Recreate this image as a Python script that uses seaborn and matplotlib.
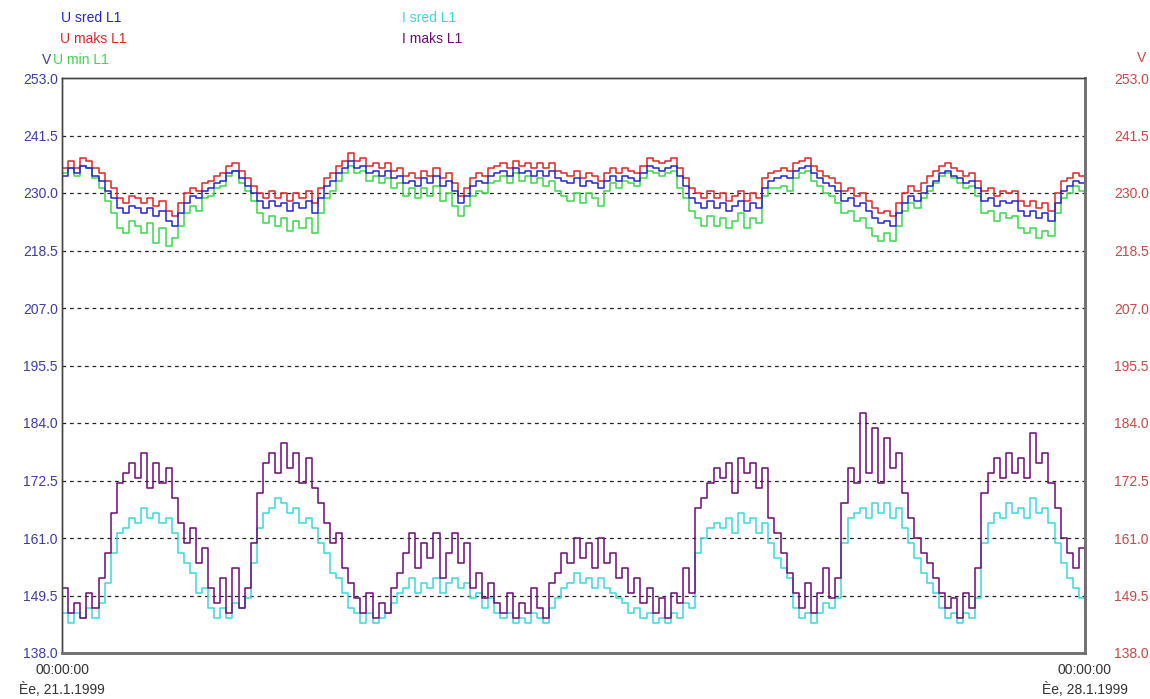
import numpy as np
import pandas as pd
import matplotlib
matplotlib.use('Agg')
import matplotlib.pyplot as plt
import seaborn as sns

# hourly readings, 21.1.1999 00:00 -> 28.1.1999 00:00
hours = list(range(169))

u_maks = [235, 236.5, 235, 237, 236.5, 235, 234, 232.5, 231, 229, 228, 229.5,
          229, 228, 229, 227.5, 228.5, 226.5, 225.5, 228, 230, 231, 230.5, 232,
          232.5, 233.5, 234, 235.5, 236, 234.5, 233, 231.5, 230, 229, 230.5, 229,
          230, 228.5, 230, 229, 230.5, 228, 231, 233, 234, 235.5, 236.5, 238,
          236.5, 237, 235.5, 236, 235, 236, 234.5, 235, 233.5, 234, 233, 234.5,
          233.5, 235, 233, 234, 232, 229.5, 231, 233, 234, 233.5, 235, 235.5,
          236, 235, 236.5, 235.5, 236, 235, 236, 235, 236, 234.5, 234, 233.5,
          234.5, 233, 234, 233.5, 232.5, 234, 235, 234, 235, 234.5, 234, 235.5,
          237, 236.5, 236, 236.5, 237, 235, 233, 231, 230, 229, 230.5, 229,
          230, 228.5, 229.5, 230.5, 228.5, 230, 229, 233, 234, 234.5, 235, 234.5,
          236, 236.5, 237, 235.5, 234.5, 233.5, 233, 232, 230.5, 231, 229.5, 230,
          228.5, 227, 226, 226.5, 225.5, 228, 230, 231.5, 230.5, 232, 233.5, 234.5,
          235.5, 236, 235, 234.5, 233.5, 234, 232.5, 230.5, 231, 229.5, 230.5, 230,
          230.5, 228.5, 227.5, 228.5, 227, 228, 226.5, 230, 232.5, 233, 234, 233.5,
          234.5]

u_sred = [233.5, 235, 234, 235.5, 235, 233.5, 232.5, 230.5, 229, 227, 226, 227.5,
          227, 226, 227, 225.5, 226.5, 224.5, 223.5, 226, 228, 229.5, 229, 230.5,
          231, 232, 232.5, 234, 234.5, 233, 231.5, 230, 228.5, 227, 228.5, 227.5,
          228, 226.5, 228, 227, 228.5, 226, 229, 231.5, 232.5, 234, 235, 236.5,
          235, 235.5, 234, 234.5, 233.5, 234.5, 233, 233.5, 232, 232.5, 231.5, 233,
          232, 233.5, 231.5, 232.5, 230.5, 228, 229.5, 231.5, 232.5, 232, 233.5, 234,
          234.5, 233.5, 235, 234, 234.5, 233.5, 234.5, 233.5, 234.5, 233, 232.5, 232,
          233, 231.5, 232.5, 232, 231, 232.5, 233.5, 232.5, 233.5, 233, 232.5, 234,
          235.5, 235, 234.5, 235, 235.5, 233.5, 231.5, 229, 228, 227, 228.5, 227,
          228, 226.5, 227.5, 228.5, 226.5, 228, 227, 231, 232.5, 233, 233.5, 233,
          234.5, 235, 235.5, 234, 233, 232, 231.5, 230.5, 228.5, 229, 227.5, 228,
          226.5, 225, 224, 224.5, 223.5, 226, 228, 229.5, 228.5, 230, 231.5, 232.5,
          234, 234.5, 233.5, 233, 232, 232.5, 231, 228.5, 229, 227.5, 228.5, 228,
          228.5, 226.5, 225.5, 226.5, 225, 226, 224.5, 228, 230.5, 231.5, 232.5, 232,
          233]

u_min = [234, 235, 233.5, 235.5, 235, 233, 231, 228.5, 226, 223, 222, 224.5,
         223.5, 222, 224, 220, 223, 219.5, 221, 223.5, 226, 227.5, 226.5, 229,
         229.5, 231, 231.5, 233.5, 234.5, 232, 230.5, 228.5, 226, 224, 225.5, 223.5,
         225, 222.5, 224.5, 223, 225, 222, 226, 229, 230.5, 232.5, 234, 235.5,
         234, 234.5, 232.5, 233.5, 232, 233, 231, 232, 229.5, 231, 229, 231,
         229.5, 231.5, 228.5, 230, 227.5, 225.5, 227.5, 229.5, 230.5, 230, 232, 232.5,
         233.5, 232, 234, 232.5, 233.5, 232, 233, 231.5, 232.5, 230.5, 229.5, 228.5,
         230, 228, 230, 229, 227.5, 230.5, 232, 231, 232.5, 232, 231.5, 233,
         234.5, 234, 233.5, 234, 234.5, 231, 229, 226.5, 225, 223.5, 225.5, 223.5,
         225, 223, 224.5, 226, 223, 225, 224, 229.5, 231, 231, 231.5, 230.5,
         233, 234, 234.5, 232.5, 231.5, 230, 229.5, 228, 226, 226.5, 224.5, 225,
         223, 221.5, 220.5, 222, 220.5, 223.5, 226.5, 228, 227, 229, 230.5, 232,
         233.5, 234, 233, 232, 231, 231.5, 229.5, 226, 226.5, 224.5, 226, 225,
         225.5, 223, 222, 223, 221, 222.5, 221.5, 226, 229, 230, 231.5, 230.5,
         232]

i_sred = [146, 144, 146, 145, 147, 145, 148, 152, 158, 162, 163, 165,
          164, 167, 165, 166, 164, 165, 162, 158, 156, 154, 150, 151,
          147, 145, 147, 145, 148, 147, 149, 156, 163, 166, 167, 169,
          168, 166, 167, 164, 165, 163, 160, 158, 154, 153, 150, 147,
          146, 144, 146, 144, 145, 146, 148, 150, 151, 153, 150, 152,
          151, 153, 150, 152, 153, 151, 152, 149, 150, 147, 149, 146,
          145, 146, 144, 145, 144, 146, 145, 144, 147, 149, 151, 152,
          154, 152, 153, 151, 153, 151, 150, 149, 148, 146, 147, 145,
          146, 144, 145, 144, 146, 145, 148, 147, 158, 161, 163, 164,
          163, 165, 162, 166, 164, 165, 162, 164, 160, 157, 155, 153,
          147, 145, 146, 144, 146, 148, 147, 149, 160, 165, 166, 167,
          165, 168, 166, 168, 165, 167, 163, 160, 157, 154, 152, 150,
          147, 145, 146, 144, 146, 145, 149, 160, 164, 166, 165, 168,
          166, 167, 165, 169, 166, 167, 164, 160, 156, 153, 151, 149,
          146]

i_maks = [151, 146, 148, 145, 150, 147, 153, 158, 166, 172, 174, 176,
          173, 178, 171, 176, 172, 175, 169, 164, 160, 163, 156, 159,
          151, 148, 153, 146, 155, 147, 151, 160, 170, 176, 178, 174,
          180, 175, 178, 172, 177, 171, 168, 164, 160, 162, 155, 152,
          149, 146, 150, 145, 148, 146, 151, 154, 158, 162, 155, 160,
          157, 162, 153, 158, 162, 156, 160, 151, 154, 149, 152, 148,
          146, 150, 145, 148, 146, 151, 147, 145, 152, 154, 158, 156,
          161, 157, 160, 155, 161, 156, 158, 153, 155, 150, 153, 148,
          151, 146, 149, 145, 150, 148, 155, 150, 167, 169, 172, 175,
          173, 176, 170, 177, 174, 176, 171, 175, 165, 162, 158, 154,
          150, 147, 152, 146, 150, 155, 149, 153, 168, 175, 172, 186,
          174, 183, 172, 181, 175, 178, 170, 165, 161, 158, 156, 153,
          150, 147, 149, 145, 150, 147, 155, 170, 174, 177, 173, 178,
          174, 177, 173, 182, 176, 178, 172, 167, 161, 158, 155, 159,
          149]

y_ticks = [138.0, 149.5, 161.0, 172.5, 184.0, 195.5, 207.0, 218.5, 230.0, 241.5, 253.0]
x_labels = ['00:00:00\nÈe, 21.1.1999', '00:00:00\nÈe, 28.1.1999']

df = pd.DataFrame({'hour': hours, 'U maks L1': u_maks, 'U sred L1': u_sred,
                   'U min L1': u_min, 'I sred L1': i_sred, 'I maks L1': i_maks})

colors = {'U sred L1': '#2424d0', 'U maks L1': '#e02424', 'U min L1': '#3ad84a',
          'I sred L1': '#3ad8dc', 'I maks L1': '#6e0a78'}

sns.set_style('white')
plt.rcParams['font.family'] = ['Liberation Sans', 'DejaVu Sans']

fig = plt.figure(figsize=(11.5, 6.99), dpi=100)
ax = fig.add_axes([62 / 1150, 46 / 699, 1023 / 1150, 575 / 699])

for name in ['U min L1', 'U maks L1', 'U sred L1', 'I sred L1', 'I maks L1']:
    sns.lineplot(data=df, x='hour', y=name, ax=ax, color=colors[name],
                 drawstyle='steps-post', linewidth=1.1, legend=False)

ax.set_xlim(0, 168)
ax.set_ylim(138, 253)
ax.set_yticks(y_ticks)
ax.set_yticklabels([f'{v:.1f}' for v in y_ticks])
ax.set_xticks([0, 168])
ax.set_xticklabels(x_labels, linespacing=1.45)
ax.set_xlabel('')
ax.set_ylabel('')
ax.tick_params(axis='y', length=0, pad=3, labelsize=10, labelcolor='#3c3ca8')
ax.tick_params(axis='x', length=0, pad=7, labelsize=10, labelcolor='#333333')

for v in y_ticks[1:-1]:
    ax.axhline(v, color='#222222', linestyle=(0, (3, 3)), linewidth=0.9, zorder=0)

ax2 = ax.twinx()
ax2.set_ylim(138, 253)
ax2.set_yticks(y_ticks)
ax2.set_yticklabels([f'{v:.1f}' for v in y_ticks])
ax2.tick_params(axis='y', length=0, pad=21, labelsize=10, labelcolor='#c84848')

for a in (ax, ax2):
    for s in ['left', 'top']:
        a.spines[s].set_color('#444444')
        a.spines[s].set_linewidth(1.0)
    for s in ['right', 'bottom']:
        a.spines[s].set_color('#707070')
        a.spines[s].set_linewidth(1.8)

def put(x, y, s, c, ha='left'):
    fig.text(x / 1150, 1 - y / 699, s, color=c, fontsize=10, ha=ha, va='center')

put(61, 18, 'U sred L1', colors['U sred L1'])
put(60, 39, 'U maks L1', colors['U maks L1'])
put(53, 60, 'U min L1', colors['U min L1'])
put(51, 60, 'V', '#3c3ca8', ha='right')
put(402, 18, 'I sred L1', colors['I sred L1'])
put(402, 39, 'I maks L1', colors['I maks L1'])
put(1146, 58, 'V', '#c84848', ha='right')

fig.savefig('out.png', dpi=100)
